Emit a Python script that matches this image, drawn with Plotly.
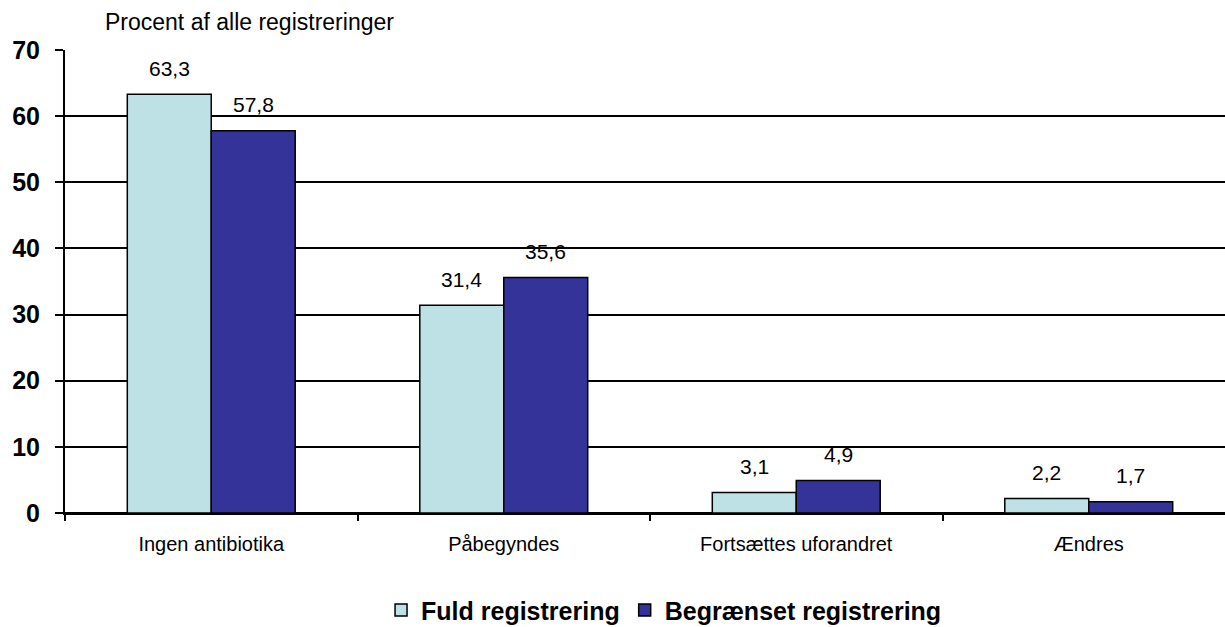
import plotly.graph_objects as go

categories = ["Ingen antibiotika", "Påbegyndes", "Fortsættes uforandret", "Ændres"]
fuld = [63.3, 31.4, 3.1, 2.2]
begraenset = [57.8, 35.6, 4.9, 1.7]
series_names = ["Fuld registrering", "Begrænset registrering"]
y_ticks = [0, 10, 20, 30, 40, 50, 60, 70]

W, H = 1240, 627
L, R, T, B = 65, 5, 50, 114
bargap = 0.426
cat_w = (W - L - R) / len(categories)
bar_w = cat_w * (1 - bargap) / 2

fig = go.Figure()
fig.add_trace(go.Bar(name=series_names[0], x=categories, y=fuld,
                     marker=dict(color="#BDE1E4", line=dict(color="black", width=1.5))))
fig.add_trace(go.Bar(name=series_names[1], x=categories, y=begraenset,
                     marker=dict(color="#333399", line=dict(color="black", width=1.5))))

for vals, shift in ((fuld, -bar_w / 2), (begraenset, bar_w / 2)):
    for c, v in zip(categories, vals):
        fig.add_annotation(x=c, y=v, text=f"{v:.1f}".replace(".", ","), showarrow=False,
                           xshift=shift, yshift=26, font=dict(family="Arial", size=21, color="black"))

fig.add_annotation(xref="paper", yref="paper", x=0.158, y=1.0, yshift=28,
                   text="Procent af alle registreringer", showarrow=False, xanchor="center",
                   yanchor="middle", font=dict(family="Arial", size=23, color="black"))

fig.update_layout(
    width=W, height=H, barmode="group", bargap=bargap, bargroupgap=0,
    separators=",.",
    plot_bgcolor="white", paper_bgcolor="white",
    margin=dict(l=L, r=R, t=T, b=B, autoexpand=False),
    font=dict(family="Arial", color="black"),
    showlegend=True,
    legend=dict(orientation="h", x=0.512, xanchor="center", y=-0.21, yanchor="middle",
                font=dict(family="Arial", size=25, color="black", weight="bold"),
                itemwidth=30, tracegroupgap=0),
)
fig.update_xaxes(showline=True, linecolor="black", linewidth=2, ticks="outside", tickson="boundaries",
                 ticklen=6, tickcolor="black", tickwidth=2, tickfont=dict(family="Arial", size=20),
                 ticklabelstandoff=12, showgrid=False)
fig.update_yaxes(range=[0, 70], tickvals=y_ticks, showline=True, linecolor="black", linewidth=2,
                 ticks="outside", ticklen=8, tickcolor="black", tickwidth=2,
                 tickfont=dict(family="Arial", size=25, weight="bold"), ticklabelstandoff=10,
                 showgrid=True, gridcolor="black", gridwidth=2, zeroline=True, zerolinecolor="black",
                 zerolinewidth=2)

fig.write_html("out.html", config={"displayModeBar": False},
               post_script="document.body.style.margin='0';document.body.style.overflow='hidden';")
